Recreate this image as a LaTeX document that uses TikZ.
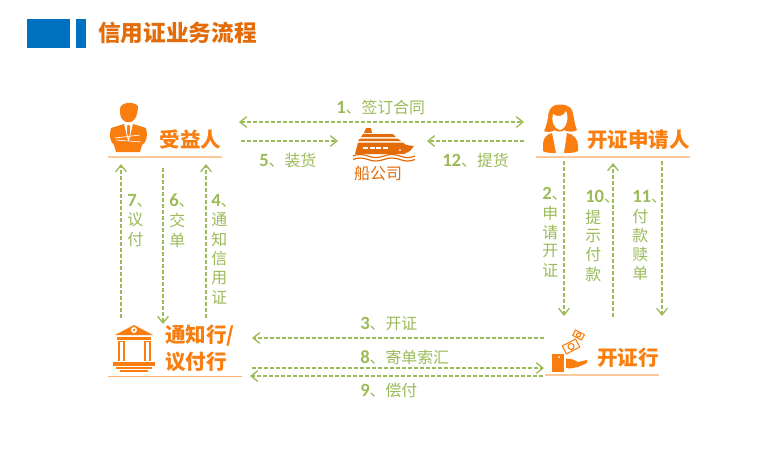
\documentclass[tikz,border=0pt]{standalone}
\usepackage{fontspec}
\setmainfont{Carlito}
\newfontfamily\cjk{Noto Sans CJK SC}
\usetikzlibrary{arrows.meta}
\definecolor{lab}{HTML}{9BBB59}
\definecolor{org}{HTML}{F97D0F}
\definecolor{deep}{HTML}{E36C09}
\definecolor{rulec}{HTML}{FDC89A}
\definecolor{blu}{HTML}{0070C0}
\newcommand{\numlab}[2]{{\fontsize{14}{14}\selectfont\bfseries #1}{\cjk\fontsize{11.9}{14}\selectfont 、#2}}
\newcommand{\vnum}[1]{{\fontsize{14}{14}\selectfont\bfseries #1}{\cjk\fontsize{11.9}{14}\selectfont 、}}
\tikzset{
  x=0.75pt,y=-0.75pt,
  flow/.style={draw=lab,line width=1.1pt,dash pattern=on 3pt off 1.5pt,-{Straight Barb[length=5pt,width=8pt,line width=1.0pt]}},
  flowboth/.style={flow,{Straight Barb[length=5pt,width=8pt,line width=1.0pt]}-{Straight Barb[length=5pt,width=8pt,line width=1.0pt]}},
  hlabel/.style={anchor=west,inner sep=0pt,text=lab},
  vchar/.style={anchor=west,inner sep=0pt,text=lab,font=\cjk\fontsize{11.9}{14}\selectfont},
  vhead/.style={anchor=west,inner sep=0pt,text=lab},
  role/.style={inner sep=0pt,text=org,font=\cjk\bfseries\fontsize{15.4}{18}\selectfont},
  rulesep/.style={draw=rulec,line width=1.1pt},
}
\begin{document}
\begin{tikzpicture}
\path[use as bounding box,fill=white] (0,0) rectangle (775,458);
% title
\fill[blu] (27,19) rectangle (69.5,48);
\fill[blu] (76,19) rectangle (86,48);
\node[anchor=west,inner sep=0pt,text=deep,font=\cjk\bfseries\fontsize{17}{20}\selectfont] (title) at (98,33) {信用证业务流程};
% roles
\node[role] (ben) at (190.5,140) {受益人};
\node[role] (app) at (638.5,140) {开证申请人};
\node[role,anchor=west] (adv1) at (165,336) {通知行/};
\node[role,anchor=west] (adv2) at (165,362) {议付行};
\node[role,anchor=west] (iss) at (597,358) {开证行};
\node[inner sep=0pt,text=deep,font=\cjk\fontsize{12}{14}\selectfont] (ship) at (378,173) {船公司};
% rules
\draw[rulesep] (108,157) -- (222,157);
\draw[rulesep] (536,157) -- (690,157);
\draw[draw=rulec!70!org,line width=0.75pt] (108,376) -- (242,376);
\draw[rulesep] (545,375) -- (659,375);
% man
\fill[org] (120,109) .. controls (120,102) and (134,101) .. (138,106) .. controls (138,110) and (137,117) .. (134,120) .. controls (132,123) and (125,123) .. (123,120) .. controls (120,117) and (120,113) .. (120,109) -- cycle;
\fill[org] (124,124) -- (111,128) .. controls (109,135) and (110,142) .. (114,145) -- (116,152) -- (140,152) -- (142,145) .. controls (147,142) and (148,135) .. (146,128) -- (133,124) -- (129,141) -- (128,141) -- cycle;
\fill[org] (127.3,125) -- (129.7,125) -- (130,133) -- (128.5,138) -- (127,133) -- cycle;
\draw[white,line width=0.5pt] (115,138) -- (140,135);
\draw[white,line width=0.5pt] (116,140) -- (141,142);
% woman
\fill[org] (560,104.5) .. controls (550,104.5) and (548,112) .. (548,118) .. controls (547,124) and (545,129) .. (544,131) .. controls (548,132.5) and (552,132) .. (555,130) .. controls (556,132) and (563,132) .. (564,130) .. controls (567,132) and (574,132.5) .. (577,130) .. controls (574,124) and (574,115) .. (572,110) .. controls (570,106) and (565,104.5) .. (560,104.5) -- cycle;
\fill[white] (553,114) .. controls (558,118) and (564,116) .. (566,111) .. controls (569,118) and (567,128) .. (560,130) .. controls (553,128) and (551,120) .. (553,114) -- cycle;
\fill[org] (552,133) .. controls (545,135) and (543,139) .. (543,145) -- (543,151) .. controls (545,153) and (552,153) .. (556,153) -- cycle;
\fill[org] (567,133) .. controls (575,135) and (578,140) .. (578,146) -- (578,151) .. controls (575,153) and (568,153) .. (564,153) -- cycle;
% ship
\fill[deep] (366,128) -- (371,128) -- (372,133) -- (364,133) -- cycle;
\fill[deep] (363,134) -- (393,134) -- (396,137) -- (361,137) -- cycle;
\fill[deep] (360,138.5) -- (398,138.5) -- (401,141) -- (358,141) -- cycle;
\fill[deep] (358,142.5) -- (403,142.5) -- (406,145) -- (414,146) -- (410,151) -- (404,154) -- (355,154) -- cycle;
\foreach \xx in {363,369.5,376,382.5}{\fill[white] (\xx,147) rectangle +(5,2);}
\fill[white] (400,150) circle (1);
\draw[deep,line width=0.9pt] (353,156) .. controls (358,154) and (362,154) .. (368,156) .. controls (373,158) and (378,158) .. (384,156) .. controls (389,154) and (394,154) .. (400,156) .. controls (405,158) and (410,158) .. (415,156);
\draw[deep,line width=0.9pt] (353,159.5) .. controls (358,157.5) and (362,157.5) .. (368,159.5) .. controls (373,161.5) and (378,161.5) .. (384,159.5) .. controls (389,157.5) and (394,157.5) .. (400,159.5) .. controls (405,161.5) and (410,161.5) .. (415,159.5);
% bank
\fill[org] (134,325) -- (153,335) -- (115,335) -- cycle;
\fill[white] (134,330) circle (3);
\fill[org] (134,330) circle (1.4);
\fill[org] (117,336.5) rectangle (151,340);
\fill[org] (118,341) rectangle (125,361);
\fill[white] (120.3,342) rectangle (122.7,361);
\fill[org] (144,341) rectangle (151,361);
\fill[white] (146.3,342) rectangle (148.7,361);
\fill[org] (113,362) rectangle (155,366);
\fill[org] (116,367) rectangle (152,369);
\fill[org] (120,370) rectangle (148,371.5);
% hand
\fill[org] (552,354) rectangle (564,372);
\fill[white] (559,357) circle (1);
\fill[org] (566,358.5) -- (573,359.5) -- (578,362) -- (587,360) -- (587,363) -- (578,367) -- (570,368.5) -- (566,368) -- cycle;
\begin{scope}[draw=org,line width=0.8pt]
\draw[rotate around={28:(571,346.5)}] (563.5,342) rectangle (578.5,351);
\draw[rotate around={-28:(578.5,335)}] (573.5,332) rectangle (583.5,338);
\draw (571,346.5) circle (3);
\draw (578.5,335) circle (2);
\end{scope}
% horizontal labels
\node[hlabel] (l1) at (336,107) {\numlab{1}{签订合同}};
\node[hlabel] (l5) at (259,160) {\numlab{5}{装货}};
\node[hlabel] (l12) at (442,160) {\numlab{12}{提货}};
\node[hlabel] (l3) at (360,324) {\numlab{3}{开证}};
\node[hlabel] (l8) at (360,357) {\numlab{8}{寄单索汇}};
\node[hlabel] (l9) at (360,390) {\numlab{9}{偿付}};
% vertical labels
\node[vhead] (v7) at (127,201) {\vnum{7}};
\node[vchar] at (127,220) {议}; \node[vchar] at (127,240) {付};
\node[vhead] (v6) at (169,201) {\vnum{6}};
\node[vchar] at (169,220) {交}; \node[vchar] at (169,240) {单};
\node[vhead] (v4) at (211,201) {\vnum{4}};
\node[vchar] at (211,220) {通}; \node[vchar] at (211,239) {知}; \node[vchar] at (211,258) {信}; \node[vchar] at (211,278) {用}; \node[vchar] at (211,297) {证};
\node[vhead] (v2) at (542,194) {\vnum{2}};
\node[vchar] at (542,213) {申}; \node[vchar] at (542,232) {请}; \node[vchar] at (542,251) {开}; \node[vchar] at (542,270) {证};
\node[vhead] (v10) at (585,197) {\vnum{10}};
\node[vchar] at (585,217) {提}; \node[vchar] at (585,236) {示}; \node[vchar] at (585,255) {付}; \node[vchar] at (585,274) {款};
\node[vhead] (v11) at (632,197) {\vnum{11}};
\node[vchar] at (632,217) {付}; \node[vchar] at (632,235) {款}; \node[vchar] at (632,254) {赎}; \node[vchar] at (632,273) {单};
% connector ends
\coordinate (a1s) at (239,122); \coordinate (a1e) at (524,122);
\coordinate (a5s) at (241,141); \coordinate (a5e) at (338,141);
\coordinate (a12s) at (524,141); \coordinate (a12e) at (427,141);
\coordinate (a7s) at (121,318); \coordinate (a7e) at (121,164);
\coordinate (a6s) at (163,168); \coordinate (a6e) at (163,324);
\coordinate (a4s) at (206,318); \coordinate (a4e) at (206,164);
\coordinate (a2s) at (564,161); \coordinate (a2e) at (564,316);
\coordinate (a10s) at (613,317); \coordinate (a10e) at (613,163);
\coordinate (a11s) at (662,161); \coordinate (a11e) at (662,316);
\coordinate (a3s) at (544,338); \coordinate (a3e) at (252,338);
\coordinate (a8s) at (252,368); \coordinate (a8e) at (544,368);
\coordinate (a9s) at (543,376); \coordinate (a9e) at (250,376);
\draw[flowboth] (a1s) -- (a1e);
\foreach \p in {5,12,7,6,4,2,10,11,3,8,9}{\draw[flow] (a\p s) -- (a\p e);}
\end{tikzpicture}
\end{document}
